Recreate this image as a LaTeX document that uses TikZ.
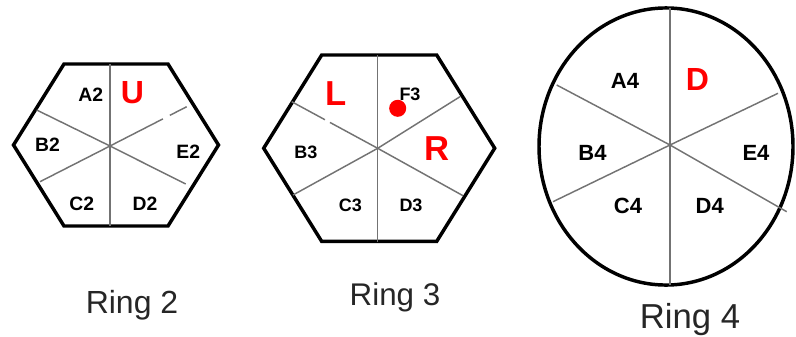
\documentclass[tikz,border=0pt]{standalone}
\usepackage{fontspec}
\setmainfont{Liberation Sans}
\usetikzlibrary{calc}

\begin{document}
\begin{tikzpicture}[x=0.75pt,y=-0.75pt,
  rim/.style={line width=2.6pt,line join=miter},
  spoke/.style={black!55,line width=1.1pt},
  cell/.style={font=\bfseries\fontsize{#1}{#1}\selectfont,anchor=base,inner sep=0pt},
  dirlabel/.style={red,font=\bfseries\fontsize{#1}{#1}\selectfont,anchor=base,inner sep=0pt},
  caption/.style={black!85,font=\fontsize{#1}{#1}\selectfont,anchor=base,inner sep=0pt}]
  \useasboundingbox (0,0) rectangle (796,336);

  % Ring 2 : hexagon
  \draw[rim,shift={(116,145)}] (-102.5,0) -- (-52,-81) -- (52,-81) -- (102.5,0)
    -- (52,81) -- (-52,81) -- cycle;
  \coordinate (hub2) at (110,146);
  \draw[spoke] (110,64) -- (110,226);
  \foreach \e in {(36.7,110),(40,181.7),(185.7,184)}
    \draw[spoke] (hub2) -- \e;
  \coordinate (tip2) at (186.7,106.7);
  \draw[spoke] (hub2) -- ($(hub2)!0.69!(tip2)$) ($(hub2)!0.78!(tip2)$) -- (tip2);
  \node[cell=14.5] (a2) at (90.8,101.7) {A2};
  \node[cell=14.5] (b2) at (47.5,151.7) {B2};
  \node[cell=14.5] (c2) at (81.7,210.5) {C2};
  \node[cell=14.5] (d2) at (145,210.5) {D2};
  \node[cell=14.5] (e2) at (188.3,158) {E2};
  \node[dirlabel=24] (up) at (132.5,103) {U};
  \node[caption=24] (ring2) at (132,313) {Ring 2};

  % Ring 3 : hexagon
  \draw[rim,shift={(379.2,148.2)}] (-115.5,0) -- (-57.5,-93.2) -- (57.5,-93.2)
    -- (115.5,0) -- (57.5,93.2) -- (-57.5,93.2) -- cycle;
  \coordinate (hub3) at (377.7,148.3);
  \draw[spoke] (377.7,55) -- (377.7,241.5);
  \foreach \e in {(463,195.7),(293,195),(460,96.7)}
    \draw[spoke] (hub3) -- \e;
  \coordinate (tip3) at (291.7,101.7);
  \draw[spoke] (hub3) -- ($(hub3)!0.555!(tip3)$) ($(hub3)!0.613!(tip3)$) -- (tip3);
  \node[cell=13.5] (f3) at (410,100.7) {F3};
  \node[cell=13.5] (b3) at (306,158) {B3};
  \node[cell=13.5] (c3) at (350.5,211.5) {C3};
  \node[cell=13.5] (d3) at (411,211.5) {D3};
  \node[dirlabel=26] (left) at (336,105) {L};
  \node[dirlabel=26] (right) at (437.5,160) {R};
  \fill[red] (397.7,108.3) circle (6.4pt);
  \node[caption=23.5] (ring3) at (395,305) {Ring 3};

  % Ring 4 : circle
  \draw[rim] (666,146.5) ellipse [x radius=95.25pt, y radius=103.9pt];
  \coordinate (hub4) at (670,145);
  \draw[spoke] (670,8) -- (670,285);
  \foreach \e in {(556.7,85),(553,201.7),(778,93.3),(786.7,211.7)}
    \draw[spoke] (hub4) -- \e;
  \node[cell=16.5] (a4) at (625,88.3) {A4};
  \node[cell=16.5] (b4) at (592.5,160) {B4};
  \node[cell=16.5] (c4) at (628,213.3) {C4};
  \node[cell=16.5] (d4) at (709.7,213.3) {D4};
  \node[cell=16.5] (e4) at (756,160) {E4};
  \node[dirlabel=24] (down) at (697.5,90) {D};
  \node[caption=26] (ring4) at (690,328) {Ring 4};
\end{tikzpicture}
\end{document}
